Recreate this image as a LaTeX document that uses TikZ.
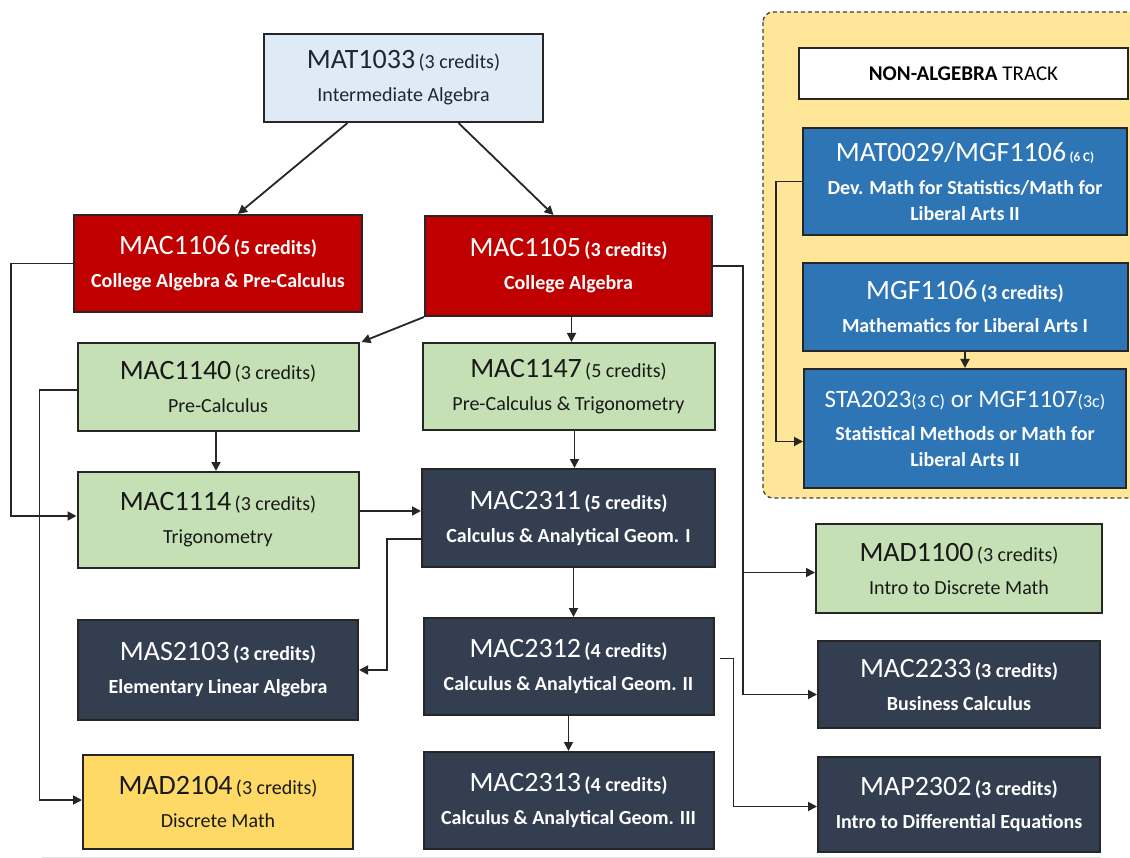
\documentclass[tikz,border=0pt]{standalone}
\usepackage{fontspec}
\setmainfont{Carlito}
\usetikzlibrary{arrows.meta,positioning}

\definecolor{crsred}{HTML}{C00000}
\definecolor{crsdark}{HTML}{333F50}
\definecolor{crsgreen}{HTML}{C5E0B4}
\definecolor{crsblue}{HTML}{2E75B6}
\definecolor{crslight}{HTML}{DEEBF7}
\definecolor{crsgold}{HTML}{FFD966}
\definecolor{trackbg}{HTML}{FFE699}
\definecolor{crsink}{HTML}{1E2636}

% code, credits and name of a course
\newcommand{\course}[3]{{\mdseries\fontsize{28}{28}\selectfont #1}\,{(#2)}\\#3}

\tikzset{
  boxsize/.style 2 args={minimum width=#1pt, minimum height=#2pt},
  course/.style={rectangle, draw=black!85, line width=2pt, align=center,
    inner sep=0pt, font=\fontsize{20}{33}\selectfont},
  lightcourse/.style={course, fill=crslight, text=crsink},
  greencourse/.style={course, fill=crsgreen, text=black!90},
  goldcourse/.style={course, fill=crsgold, text=black!90},
  redcourse/.style={course, fill=crsred, text=white, font=\fontsize{20}{33}\selectfont\bfseries},
  darkcourse/.style={course, fill=crsdark, text=white, font=\fontsize{20}{33}\selectfont\bfseries},
  bluecourse/.style={course, fill=crsblue, text=white, font=\fontsize{20}{33}\selectfont\bfseries},
  trackpanel/.style={draw=black!75, line width=1.3pt, dash pattern=on 4pt off 3pt,
    fill=trackbg, rounded corners=10pt},
  link/.style={draw=black!85, line width=1.8pt, -{Triangle[length=9pt,width=9pt]}},
}

\begin{document}
\begin{tikzpicture}[x=1pt,y=-1pt]

    \useasboundingbox (0,0) rectangle (1130,858);

    % Non-algebra panel
    \draw[trackpanel] (763,12) rectangle (1160,498);
    \draw[black!12, line width=1pt] (42,857) -- (1100,857);

    % Nodes

    \node[lightcourse, boxsize={279}{88}] (mat1033) at (403.5,78)
      {\course{MAT1033}{3 credits}{Intermediate Algebra}} ; %
    \node[redcourse, boxsize={288}{97}] (mac1106) at (218,263.5)
      {\course{MAC1106}{5 credits}{College Algebra \& Pre-Calculus}} ; %
    \node[redcourse, boxsize={287}{100}] (mac1105) at (568.5,266)
      {\course{MAC1105}{3 credits}{College Algebra}} ; %
    \node[greencourse, boxsize={281}{88}, below=29pt of mac1106] (mac1140)
      {\course{MAC1140}{3 credits}{Pre-Calculus}} ; %
    \node[greencourse, boxsize={292}{87}, below=25pt of mac1105] (mac1147)
      {\course{MAC1147}{5 credits}{Pre-Calculus \& Trigonometry}} ; %
    \node[greencourse, boxsize={281}{96}, below=39pt of mac1140] (mac1114)
      {\course{MAC1114}{3 credits}{Trigonometry}} ; %
    \node[darkcourse, boxsize={293}{98}, below=37pt of mac1147] (mac2311)
      {\course{MAC2311}{5 credits}{Calculus \& Analytical Geom. I}} ; %
    \node[darkcourse, boxsize={280}{100}, below=50pt of mac1114] (mas2103)
      {\course{MAS2103}{3 credits}{Elementary Linear Algebra}} ; %
    \node[goldcourse, boxsize={270}{94}, below=33pt of mas2103] (mad2104)
      {\course{MAD2104}{3 credits}{Discrete Math}} ; %
    \node[darkcourse, boxsize={290}{97}, below=49pt of mac2311] (mac2312)
      {\course{MAC2312}{4 credits}{Calculus \& Analytical Geom. II}} ; %
    \node[darkcourse, boxsize={290}{97}, below=35pt of mac2312] (mac2313)
      {\course{MAC2313}{4 credits}{Calculus \& Analytical Geom. III}} ; %

    % More nodes
    \node[greencourse, boxsize={286}{89}] (mad1100) at (959,568.5)
      {\course{MAD1100}{3 credits}{Intro to Discrete Math}} ; %
    \node[darkcourse, boxsize={282}{87}, below=26pt of mad1100] (mac2233)
      {\course{MAC2233}{3 credits}{Business Calculus}} ; %
    \node[darkcourse, boxsize={282}{95}, below=27pt of mac2233] (map2302)
      {\course{MAP2302}{3 credits}{Intro to Differential Equations}} ; %

    % Non-algebra track
    \node[course, fill=white, boxsize={329}{51}, font=\fontsize{21}{21}\selectfont] (natrack) at (963.5,73.5)
      {\textbf{NON-ALGEBRA} TRACK} ; %
    \node[bluecourse, boxsize={324}{107}] (mat0029) at (965,181.5)
      {{\mdseries\fontsize{28}{28}\selectfont MAT0029/MGF1106}\,{\fontsize{13}{13}\selectfont (6 C)}\\
       Dev. Math for Statistics/Math for\\[-7pt] Liberal Arts II} ; %
    \node[bluecourse, boxsize={325}{88}, below=26pt of mat0029] (mgf1106)
      {\course{MGF1106}{3 credits}{Mathematics for Liberal Arts I}} ; %
    \node[bluecourse, boxsize={322}{119}, below=16pt of mgf1106] (sta2023)
      {{\mdseries\fontsize{25}{25}\selectfont STA2023{\fontsize{18}{18}\selectfont(3 C)} or MGF1107{\fontsize{18}{18}\selectfont(3c)}}\\
       Statistical Methods or Math for\\[-7pt] Liberal Arts II} ; %

    % Edges
    \draw[link] ([xshift=-56pt]mat1033.south) -- ([xshift=20pt]mac1106.north) ; %
    \draw[link] ([xshift=55pt]mat1033.south) -- ([xshift=-15pt]mac1105.north) ; %
    \draw[link] (mac1105.south west) -- ([xshift=2pt]mac1140.north east) ; %
    \draw[link] ([xshift=3pt]mac1105.south) -- ([xshift=3pt]mac1105.south |- mac1147.north) ; %
    \draw[link] ([xshift=6pt]mac1147.south) -- ([xshift=6pt]mac1147.south |- mac2311.north) ; %
    \draw[link] ([xshift=-2pt]mac1140.south) -- ([xshift=-2pt]mac1140.south |- mac1114.north) ; %
    \draw[link] (mac1106.west) -- ++(-62,0) |- ([yshift=4pt]mac1114.west) ; %
    \draw[link] ([yshift=-3pt]mac1140.west) -- ++(-37,0) |- ([yshift=2pt]mad2104.west) ; %
    \draw[link] ([yshift=9pt]mac1114.east) -- ([yshift=9pt]mac1114.east -| mac2311.west) ; %
    \draw[link] ([yshift=-21pt]mac2311.west) -- ++(-34,0) |- (mas2103.east) ; %
    \draw[link] ([xshift=5pt]mac2311.south) -- ([xshift=5pt]mac2311.south |- mac2312.north) ; %
    \draw[link] (mac2312.south) -- (mac2313.north) ; %
    \draw[link] (mac1105.east) -- ++(30,0) coordinate (bus) |- ([yshift=-10pt]mac2233.west) ; %
    \draw[link] (bus) |- ([yshift=-4pt]mad1100.west) ; %
    \draw[link] ([xshift=5pt,yshift=8pt]mac2312.east) -- ++(14,0) |- ([yshift=-2pt]map2302.west) ; %
    \draw[link] (mat0029.west) -- ++(-26,0) |- ([yshift=-13pt]sta2023.west) ; %
    \draw[link] (mgf1106.south) -- (mgf1106.south |- sta2023.north) ; %

\end{tikzpicture}
\end{document}
